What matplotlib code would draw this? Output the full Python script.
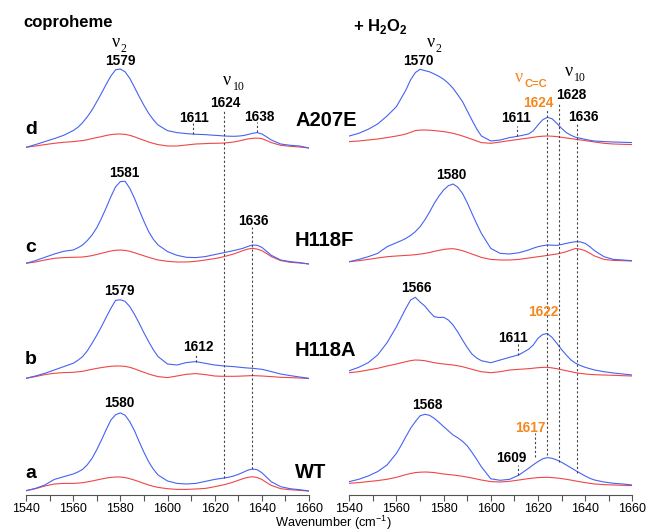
import matplotlib
matplotlib.use("Agg")
import matplotlib.pyplot as plt

plt.rcParams['font.family'] = ['Liberation Sans', 'DejaVu Sans']
plt.rcParams['mathtext.fontset'] = 'custom'
plt.rcParams['mathtext.rm'] = 'Liberation Sans'
plt.rcParams['mathtext.bf'] = 'Liberation Sans:bold'

# grille des nombres d'onde (cm-1), plus serrée autour des bandes
wavenumber = (list(range(1540, 1560, 4)) + list(range(1560, 1597, 2)) + list(range(1600, 1616, 4))
              + list(range(1616, 1645, 2)) + list(range(1648, 1661, 4)))

# coproheme : bleu = trace, rouge = référence (hauteurs relatives, u.a.)
copro_WT_blue = [0, 2.3, 5.7, 11.3, 14,
                 16.7, 18.7, 21.3, 26, 32.3, 41, 50.7, 61, 70.7, 76, 77.8, 75.5, 69, 60, 49, 38.5, 29, 21.5, 15.7,
                 9.7, 7.3, 6.7, 7.3,
                 9.3, 10.3, 11.3, 12, 12.7, 13.5, 14.7, 16.3, 18.3, 20.5, 21.7, 21, 18, 13.5, 9,
                 4, 2, 1, -0.3]
copro_WT_red = [0, 2, 4.7, 6.7, 7.3,
                7.3, 7.6, 8, 8.8, 9.7, 10.7, 11.7, 12.6, 13.3, 13.7, 13.7, 13.1, 12, 10.6, 9, 7.3, 5.7, 4.4, 3.3,
                2, 1.3, 1.3, 1.7,
                2.3, 3.1, 4, 5, 6, 7.3, 8.7, 10.4, 12, 13.3, 14, 13.2, 11.3, 8.2, 5.3,
                2, 1, 0.3, -0.3]
copro_H118A_blue = [0, 2.3, 5, 8.3, 11.7,
                    15, 18, 21.7, 27.5, 35, 43, 51.7, 61, 70, 78, 78.5, 77, 71.7, 64, 55, 45.5, 36.7, 28.5, 21.7,
                    14.3, 13.3, 15.7, 16.7,
                    15, 14.1, 13.3, 12.8, 12.3, 12, 11.7, 11.2, 10.7, 10.3, 10, 9.5, 9, 7.9, 6.7,
                    4.3, 2.7, 1.3, 0]
copro_H118A_red = [0, 1.7, 3.7, 5, 5.7,
                   6, 6.5, 7, 8, 9, 9.9, 10.7, 11.4, 12, 12.3, 12.3, 11.9, 11, 9.5, 7.7, 6, 4.3, 2.9, 1.7,
                   0.7, 2.3, 4, 4.7,
                   3.7, 3, 2.3, 2.1, 2, 2, 2, 2.1, 2.3, 2.5, 2.7, 2.5, 2.3, 2, 1.7,
                   1, 0.7, 0.3, -0.3]
copro_H118F_blue = [0, 2.7, 6, 9.3, 12,
                    13.3, 15.5, 18.3, 22.8, 28.3, 35.5, 45, 55.5, 66.7, 76.5, 81.7, 82, 75, 65, 53.3, 42, 31.7, 24, 18.3,
                    11.7, 8, 6, 5.7,
                    6.7, 7.7, 8.7, 9.7, 10.7, 11.7, 12.7, 13.8, 15, 16.8, 18.3, 18, 16, 12, 8,
                    3.3, 1.7, 0.7, -0.7]
copro_H118F_red = [0, 1.3, 3.3, 5, 5.7,
                   6, 6.1, 6.3, 6.9, 7.7, 8.8, 10, 11.2, 12.3, 13, 13.3, 12.9, 12, 10.6, 9, 7.5, 6, 4.6, 3.3,
                   2, 1.3, 1.3, 2,
                   3.3, 4, 4.7, 5.6, 6.7, 8, 9.3, 11, 12.7, 14.2, 15, 14.2, 12.7, 9.8, 6.7,
                   2.7, 1, 0.3, -0.7]
copro_A207E_blue = [0, 2.7, 5.7, 8.7, 12,
                    16.7, 20, 24.7, 30.5, 37.3, 45.5, 54, 63, 71.3, 77.5, 78.3, 75.5, 69, 60, 50.7, 42, 34, 27.5, 22.3,
                    16.7, 14.7, 13.7, 13,
                    12.7, 12.3, 12, 11.7, 11.3, 11.1, 11, 11.2, 11.7, 12.7, 14, 14.7, 13.3, 10.5, 7.3,
                    3.3, 2, 1.3, -0.7]
copro_A207E_red = [0, 1.3, 2.7, 4, 5,
                   5.7, 6.2, 6.7, 7.6, 8.7, 9.7, 10.7, 11.8, 12.7, 13.2, 13.3, 12.9, 12, 10.5, 8.7, 7, 5.3, 3.9, 2.7,
                   1.3, 1.3, 2.3, 3.3,
                   3.7, 3.9, 4, 4.1, 4.3, 4.7, 5.3, 6.2, 7.3, 8.3, 9, 9.2, 8.7, 6.8, 4.7,
                   2, 1, 0.3, -0.7]

# + H2O2
h2o2_WT_blue = [1.7, 4, 7.3, 11.7, 18.3,
                30, 38, 46.7, 55, 61.7, 67.5, 69, 68, 65, 61, 56.7, 52.5, 48.3, 45.5, 42, 37.5, 31, 24, 16.5,
                4.5, 3, 4, 8.3,
                15, 18.5, 21.7, 24.5, 25.7, 25, 23.3, 21, 18.3, 15.5, 12.7, 10, 7.3, 5, 3.3,
                1.3, 0, -0.7, -1.7]
h2o2_WT_red = [0, 0.7, 1.7, 2.7, 4,
               6, 7.3, 8.7, 9.8, 10.7, 11.1, 11.3, 11.1, 10.7, 10, 9.3, 8.8, 8.3, 7.7, 7, 6.2, 5.3, 4.3, 3.3,
               1.7, 1.3, 2, 3.3,
               4.7, 5.2, 5.7, 5.9, 6, 5.7, 5.3, 4.7, 4, 3.2, 2.3, 1.5, 0.7, 0, -0.7,
               -1.3, -1.7, -2, -2.3]
h2o2_H118A_blue = [4.3, 7.7, 12.3, 20, 32.3,
                   48.3, 57.5, 66.7, 75, 77.7, 73, 69, 63.3, 58.3, 57.5, 57.7, 55, 50, 43, 35, 27.5, 21, 17, 14.3,
                   12.3, 15, 17.7, 20.3,
                   25.7, 30, 36.7, 40.5, 41.5, 37.5, 31.7, 25.5, 20, 15, 11.7, 9.5, 7.7, 6.3, 5,
                   3.3, 2, 1, 0]
h2o2_H118A_red = [2.3, 3.3, 5, 6.7, 9,
                  11, 12.2, 13.3, 14.4, 15, 14.8, 14.3, 13.3, 12.3, 11.6, 11, 10.5, 10, 9.2, 8.3, 7, 5.7, 4.5, 3.3,
                  2.3, 3.3, 5, 5.7,
                  6.3, 6.8, 7.3, 7.6, 7.7, 7.1, 6.3, 5.3, 4.3, 3.3, 2.3, 1.6, 1, 0.6, 0.3,
                  0, -0.3, -0.7, -1]
h2o2_H118F_blue = [0, 2.3, 5, 8.3, 15,
                   19, 21, 23.3, 26.3, 30, 35, 41.7, 49.5, 58.3, 65.5, 71.7, 76, 77.7, 74.5, 68.3, 59, 48.3, 38, 28.3,
                   13.3, 8.3, 7.7, 9,
                   11.7, 13.5, 15, 16, 16.7, 16.5, 16.3, 17.2, 18.3, 19.3, 20, 19.8, 18.3, 15, 11,
                   5, 2.3, 1.7, 1]
h2o2_H118F_red = [0, 1, 2.3, 3.7, 5,
                  5.7, 6, 6.3, 6.6, 7, 7.6, 8.3, 9.2, 10.3, 11.3, 12.3, 12.8, 13, 12.2, 11, 9.4, 7.7, 6, 4.3,
                  2.3, 1.7, 1.7, 2.3,
                  3.7, 4.3, 5, 5.6, 6.3, 7, 7.7, 8.8, 10, 11.7, 13.3, 12.5, 11, 8.4, 5.7,
                  2.3, 1.3, 1, 0.7]
h2o2_A207E_blue = [7.3, 10, 14, 19.3, 27.3,
                   36.7, 45, 53.3, 63.5, 70.7, 74, 72.7, 71.5, 69.3, 67, 64, 60, 55, 48.5, 41.7, 32.5, 23.3, 14.5, 7.3,
                   2.3, 3.3, 5.7, 7.3,
                   9.3, 12.5, 18.3, 23.5, 26, 24.5, 20, 15, 10.7, 8, 6, 5, 4, 3, 2.3,
                   1.7, 1.3, 1, 0.7]
h2o2_A207E_red = [1.7, 2.3, 3.3, 4.3, 5.7,
                  7.3, 8.2, 9.3, 11, 12.7, 13.2, 13.3, 13.1, 12.7, 12.2, 11.7, 10.9, 10, 8.7, 7.3, 5.7, 4, 2.3, 0.7,
                  0, 1.3, 2.7, 4,
                  5.3, 6, 6.7, 7.1, 7.3, 7.1, 6.7, 6, 5.3, 4.7, 4, 3.4, 2.7, 2, 1.3,
                  0, -0.7, -1, -1.3]

variants = ['WT', 'H118A', 'H118F', 'A207E']
letters = ['a', 'b', 'c', 'd']
offsets_copro = [4.3, 116.7, 231.7, 347.7]
offsets_h2o2 = [11.7, 120, 233.3, 351.7]

copro_blue = [copro_WT_blue, copro_H118A_blue, copro_H118F_blue, copro_A207E_blue]
copro_red = [copro_WT_red, copro_H118A_red, copro_H118F_red, copro_A207E_red]
h2o2_blue = [h2o2_WT_blue, h2o2_H118A_blue, h2o2_H118F_blue, h2o2_A207E_blue]
h2o2_red = [h2o2_WT_red, h2o2_H118A_red, h2o2_H118F_red, h2o2_A207E_red]

BLUE = '#4563f2'
RED = '#f04646'
ORANGE = '#f5871f'
DASH = dict(color='#444444', lw=0.8, ls=(0, (2, 2)))

fig = plt.figure(figsize=(6.46, 5.32), dpi=100)
ax1 = fig.add_axes([26 / 646, 37 / 532, 283 / 646, 495 / 532])
ax2 = fig.add_axes([349.3 / 646, 37 / 532, 283 / 646, 495 / 532])

for ax in (ax1, ax2):
    ax.set_xlim(1540, 1660)
    ax.set_ylim(0, 495)
    ax.patch.set_visible(False)
    for s in ('left', 'right', 'top'):
        ax.spines[s].set_visible(False)
    ax.spines['bottom'].set_color('#555555')
    ax.set_yticks([])
    ax.set_xticks(range(1540, 1661, 20))
    ax.set_xticks(range(1550, 1660, 20), minor=True)
    ax.tick_params(axis='x', which='both', length=4, width=0.8, color='#555555',
                   labelsize=9, pad=2)

for i in range(4):
    ax1.plot(wavenumber, [v + offsets_copro[i] for v in copro_red[i]], color=RED, lw=0.8)
    ax1.plot(wavenumber, [v + offsets_copro[i] for v in copro_blue[i]], color=BLUE, lw=0.8)
    ax2.plot(wavenumber, [v + offsets_h2o2[i] for v in h2o2_red[i]], color=RED, lw=0.8)
    ax2.plot(wavenumber, [v + offsets_h2o2[i] for v in h2o2_blue[i]], color=BLUE, lw=0.8)

# lettres et noms des variants
letter_y = [22, 136, 247, 365]
name_y = [22, 145, 255, 374]
for i in range(4):
    ax1.text(1539.6, letter_y[i], letters[i], fontsize=14, fontweight='bold', ha='left', va='center')
    ax1.text(1654.1, name_y[i], variants[i], fontsize=14.5, fontweight='bold', ha='left', va='center')

# titres
ax1.text(1538.7, 473, 'coproheme', fontsize=12, fontweight='bold', ha='left', va='center')
ax2.text(1541.6, 468, '+ H$_\\mathbf{2}$O$_\\mathbf{2}$', fontsize=12, fontweight='bold', ha='left', va='center')


def nu(ax, x, y, sub, color='black', sans=False):
    ax.text(x, y, '\u03bd', fontfamily='Liberation Serif', fontsize=13, color=color,
            ha='left', va='baseline')
    if sans:
        ax.annotate(sub, (x, y), xytext=(6.6, -4), textcoords='offset points', fontsize=8,
                    fontweight='bold', color=color, va='baseline')
    else:
        ax.annotate(sub, (x, y), xytext=(6.6, -3.5), textcoords='offset points',
                    fontfamily='Liberation Serif', fontsize=8.5, color=color, va='baseline')


def num(ax, x, y, s, color='black'):
    ax.text(x, y, s, fontsize=9.8, fontweight='bold', color=color, ha='center', va='center')


# panneau gauche
nu(ax1, 1576.3, 448.3, '2')
nu(ax1, 1623.7, 410, '10')
num(ax1, 1579.9, 434, '1579')
num(ax1, 1624.4, 392, '1624')
num(ax1, 1611.2, 377, '1611')
num(ax1, 1638.8, 378, '1638')
num(ax1, 1581.6, 322, '1581')
num(ax1, 1636.3, 274, '1636')
num(ax1, 1579.4, 204, '1579')
num(ax1, 1613.1, 148, '1612')
num(ax1, 1579.6, 92, '1580')
ax1.plot([1611, 1611], [361, 372], **DASH)
ax1.plot([1638, 1638], [363, 373], **DASH)
ax1.plot([1612, 1612], [133, 142], **DASH)
ax1.plot([1624, 1624], [17, 385], **DASH)
ax1.plot([1636, 1636], [26, 268], **DASH)

# panneau droit
nu(ax2, 1572.8, 448.3, '2')
nu(ax2, 1631.5, 419, '10')
nu(ax2, 1610.2, 413.3, 'C=C', ORANGE, sans=True)
num(ax2, 1569.3, 434, '1570')
num(ax2, 1620.0, 392, '1624', ORANGE)
num(ax2, 1634.3, 400, '1628')
num(ax2, 1610.7, 377, '1611')
num(ax2, 1639.2, 378, '1636')
num(ax2, 1583.3, 320, '1580')
num(ax2, 1568.3, 207, '1566')
num(ax2, 1609.3, 157, '1611')
num(ax2, 1622.4, 183, '1622', ORANGE)
num(ax2, 1573.0, 90, '1568')
num(ax2, 1616.6, 67, '1617', ORANGE)
num(ax2, 1608.9, 37, '1609')
ax2.plot([1611, 1611], [359, 369], **DASH)
ax2.plot([1611.4, 1611.4], [140, 152], **DASH)
ax2.plot([1618.8, 1618.8], [38, 62], **DASH)
ax2.plot([1611.7, 1611.7], [20, 30], **DASH)
ax2.plot([1623.8, 1623.8], [40, 385], **DASH)
ax2.plot([1629.1, 1629.1], [33, 393], **DASH)
ax2.plot([1636.7, 1636.7], [22, 371], **DASH)

fig.text(0.5155, 0.0094, 'Wavenumber (cm$^{-1}$)', fontsize=9.2, ha='center', va='baseline')

fig.savefig('out.png', dpi=100)
